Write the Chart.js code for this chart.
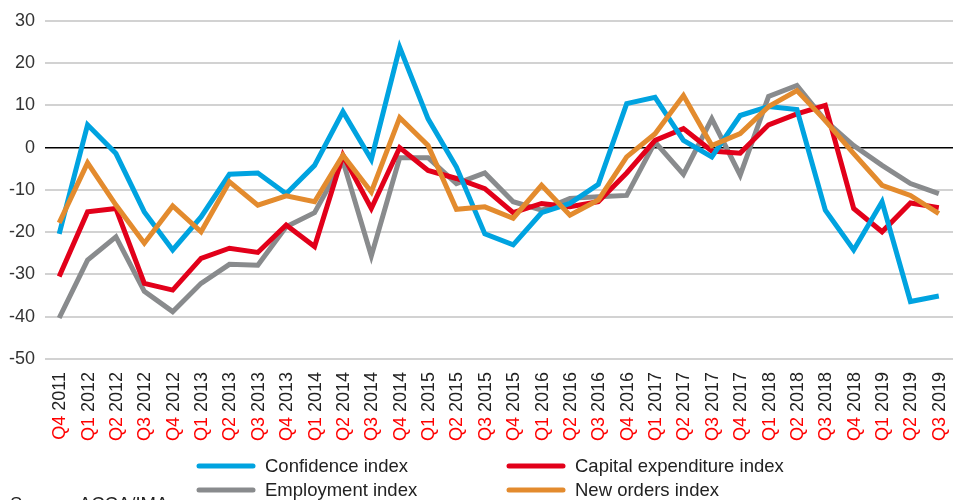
<!DOCTYPE html>
<html>
<head>
<meta charset="utf-8">
<script src="https://cdn.jsdelivr.net/npm/chart.js@4.4.1/dist/chart.umd.min.js"></script>
<style>
  html, body { margin: 0; padding: 0; background: #fff; }
  #wrap { width: 967px; height: 500px; position: relative; overflow: hidden; }
</style>
</head>
<body>
<div id="wrap"><canvas id="c" width="967" height="500"></canvas></div>
<script>
const quarters = ["Q4","Q1","Q2","Q3","Q4","Q1","Q2","Q3","Q4","Q1","Q2","Q3","Q4","Q1","Q2","Q3","Q4","Q1","Q2","Q3","Q4","Q1","Q2","Q3","Q4","Q1","Q2","Q3","Q4","Q1","Q2","Q3"];
const years = ["2011","2012","2012","2012","2012","2013","2013","2013","2013","2014","2014","2014","2014","2015","2015","2015","2015","2016","2016","2016","2016","2017","2017","2017","2017","2018","2018","2018","2018","2019","2019","2019"];
const categories = quarters.map((q, i) => q + " " + years[i]);

const confidenceIndex = [-20.4, 5.4, -1.4, -15.2, -24.2, -16.4, -6.3, -6.0, -10.9, -4.2, 8.5, -2.8, 23.7, 6.8, -4.6, -20.4, -23.0, -15.4, -13.2, -8.7, 10.4, 11.9, 1.7, -2.2, 7.6, 9.7, 9.0, -14.8, -24.2, -12.8, -36.4, -35.1];
const capexIndex = [-30.5, -15.2, -14.4, -32.1, -33.7, -26.2, -23.8, -24.8, -18.3, -23.4, -1.8, -14.4, 0.0, -5.4, -7.3, -9.7, -15.4, -13.2, -14.0, -12.8, -6.0, 1.7, 4.5, -0.8, -1.3, 5.4, 8.0, 10.0, -14.4, -19.9, -13.1, -14.2];
const employmentIndex = [-40.3, -26.6, -21.1, -34.0, -38.8, -32.1, -27.6, -27.8, -18.7, -15.4, -3.2, -25.6, -2.4, -2.4, -8.5, -6.0, -12.8, -14.8, -12.0, -11.6, -11.3, 1.3, -6.3, 6.8, -6.5, 12.1, 14.7, 6.4, 0.5, -4.2, -8.5, -10.9];
const newOrdersIndex = [-17.8, -3.6, -13.6, -22.6, -13.8, -19.9, -8.1, -13.6, -11.4, -12.8, -1.8, -10.5, 7.1, 0.5, -14.6, -14.0, -16.7, -8.9, -16.0, -12.4, -2.2, 3.3, 12.3, 0.5, 3.3, 9.7, 13.5, 6.4, -1.4, -8.9, -11.3, -15.6];

const seriesNames = ["Confidence index", "Capital expenditure index", "Employment index", "New orders index"];
const seriesColors = ["#00a3e0", "#e2001a", "#898b8d", "#e38b2e"];
const yTicks = [30, 20, 10, 0, -10, -20, -30, -40, -50];

const FONT = "'Liberation Sans', Arial, sans-serif";

const customDraw = {
  id: 'customDraw',
  afterDraw(chart) {
    const ctx = chart.ctx;
    const xs = chart.scales.x;
    ctx.save();
    ctx.font = "18px " + FONT;
    ctx.textBaseline = 'middle';
    ctx.textAlign = 'left';
    categories.forEach((lab, i) => {
      const x = xs.getPixelForTick(i) + 1;
      const q = quarters[i] + " ";
      const y = years[i];
      const wq = ctx.measureText(q).width;
      const wy = ctx.measureText(y).width;
      const w = wq + wy;
      ctx.save();
      ctx.translate(x, chart.chartArea.bottom + 13);
      ctx.rotate(-Math.PI / 2);
      ctx.fillStyle = '#ff0000';
      ctx.fillText(q, -w, 0);
      ctx.fillStyle = '#222222';
      ctx.fillText(y, -w + wq, 0);
      ctx.restore();
    });
    ctx.restore();

    ctx.save();
    const items = [
      {x: 199, y: 466, i: 0},
      {x: 509, y: 466, i: 1},
      {x: 199, y: 490, i: 2},
      {x: 509, y: 490, i: 3}
    ];
    ctx.font = "18.5px " + FONT;
    ctx.textBaseline = 'middle';
    ctx.textAlign = 'left';
    items.forEach(it => {
      ctx.strokeStyle = seriesColors[it.i];
      ctx.lineWidth = 5;
      ctx.lineCap = 'round';
      ctx.beginPath();
      ctx.moveTo(it.x, it.y);
      ctx.lineTo(it.x + 54, it.y);
      ctx.stroke();
      ctx.fillStyle = '#222222';
      ctx.fillText(seriesNames[it.i], it.x + 66, it.y + 1);
    });
    ctx.textBaseline = 'alphabetic';
    ctx.fillStyle = '#222222';
    ctx.fillText("Source: ACCA/IMA", 10, 510);
    ctx.restore();
  }
};

new Chart(document.getElementById('c'), {
  type: 'line',
  data: {
    labels: categories,
    datasets: [
      { label: seriesNames[0], data: confidenceIndex, borderColor: seriesColors[0], order: 2 },
      { label: seriesNames[1], data: capexIndex, borderColor: seriesColors[1], order: 3 },
      { label: seriesNames[2], data: employmentIndex, borderColor: seriesColors[2], order: 4 },
      { label: seriesNames[3], data: newOrdersIndex, borderColor: seriesColors[3], order: 1 }
    ].map(d => Object.assign(d, {
      borderWidth: 5,
      pointRadius: 0,
      pointHoverRadius: 0,
      tension: 0,
      fill: false,
      backgroundColor: d.borderColor
    }))
  },
  options: {
    responsive: false,
    animation: false,
    devicePixelRatio: 1,
    layout: { padding: { top: 20, right: 14, left: 0, bottom: 0 } },
    plugins: {
      legend: { display: false },
      tooltip: { enabled: false }
    },
    scales: {
      x: {
        type: 'category',
        offset: true,
        grid: { display: false, drawTicks: false },
        border: { display: false },
        ticks: {
          color: 'rgba(0,0,0,0)',
          autoSkip: false,
          maxRotation: 90,
          minRotation: 90,
          font: { size: 18, family: FONT }
        },
        afterFit(s) { s.height = 141; }
      },
      y: {
        min: -50,
        max: 30,
        afterBuildTicks(s) { s.ticks = yTicks.map(v => ({ value: v })); },
        grid: {
          drawTicks: false,
          color: c => (c.tick && c.tick.value === 0) ? '#000000' : '#d2d2d2',
          lineWidth: c => (c.tick && c.tick.value === 0) ? 1.5 : 2
        },
        border: { display: false },
        ticks: {
          color: '#333333',
          padding: 10,
          font: { size: 18, family: FONT }
        },
        afterFit(s) { s.width = 45; }
      }
    }
  },
  plugins: [customDraw]
});
</script>
</body>
</html>
